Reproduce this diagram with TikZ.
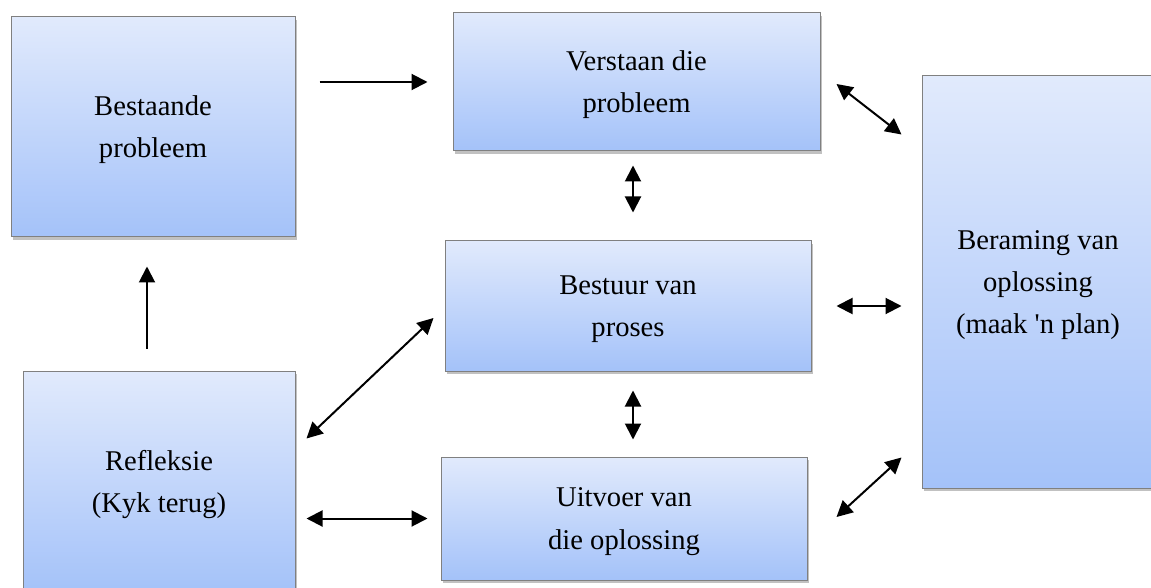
\documentclass[tikz,border=0pt]{standalone}
\usepackage{fontspec}
\setmainfont{Liberation Serif}
\usetikzlibrary{arrows.meta,shadows}
\definecolor{boxtop}{HTML}{E1EAFC}
\definecolor{boxbot}{HTML}{A4C2F9}
\definecolor{boxline}{HTML}{808080}
\newcommand\boxtext[1]{\vbox{\kern1pt\hbox{\begin{tabular}{@{}c@{}}#1\end{tabular}}}}
\tikzset{
  stepbox/.style={draw=boxline, line width=0.5pt, top color=boxtop, bottom color=boxbot,
    drop shadow={shadow xshift=1pt, shadow yshift=-1.5pt, opacity=0.4, fill=black!60},
    inner sep=0pt, font=\fontsize{14.3}{21.2}\selectfont},
  conn/.style={line width=1pt, black},
  tip/.tip={Triangle[length=8pt,width=8pt]},
}
\begin{document}
\begin{tikzpicture}[x=0.5pt,y=-0.5pt]
\clip (0,0) rectangle (1151,588);
\fill[white] (0,0) rectangle (1151,588);
\node[stepbox, minimum width=142pt, minimum height=110pt] (b1) at (153,127) {\boxtext{Bestaande\\probleem}};
\node[stepbox, minimum width=183.5pt, minimum height=69pt] (b2) at (636.5,82) {\boxtext{Verstaan die\\probleem}};
\node[stepbox, minimum width=183pt, minimum height=65pt] (b3) at (628,306) {\boxtext{Bestuur van\\proses}};
\node[stepbox, minimum width=183pt, minimum height=61.5pt] (b4) at (624,518.5) {\boxtext{Uitvoer van\\die oplossing}};
\node[stepbox, minimum width=116pt, minimum height=206pt] (b5) at (1038,282) {\boxtext{Beraming van\\oplossing\\(maak \textquotesingle n plan)}};
\node[stepbox, minimum width=136pt, minimum height=111pt] (b6) at (159,482) {\boxtext{Refleksie\\(Kyk terug)}};
\coordinate (mx) at (633,0);
% arrows
\draw[conn, -{tip}, shorten <=12pt, shorten >=12.5pt] (b1.east |- b2.west) -- (b2.west);
\draw[conn, {tip}-{tip}, shorten <=7pt, shorten >=14pt] (b2.south -| mx) -- (b3.north -| mx);
\draw[conn, {tip}-{tip}, shorten <=9.5pt, shorten >=8.5pt] (b3.south -| mx) -- (b4.north -| mx);
\draw[conn, {tip}-{tip}] ([shift={(16,2)}]b2.east) -- ([shift={(-20,59)}]b5.north west);
\draw[conn, {tip}-{tip}, shorten <=12.5pt, shorten >=10pt] (b3.east) -- (b3.east -| b5.west);
\draw[conn, {tip}-{tip}] ([shift={(29,-1.5)}]b4.east) -- ([shift={(-20,-31)}]b5.south west);
\draw[conn, {tip}-{tip}] ([shift={(11,68)}]b6.north east) -- ([shift={(-11,12)}]b3.west);
\draw[conn, {tip}-{tip}, shorten <=5.5pt, shorten >=6.5pt] (b4.west -| b6.east) -- (b4.west);
\draw[conn, -{tip}] ([shift={(-12,-22)}]b6.north) -- ([shift={(-6,29)}]b1.south);
\end{tikzpicture}
\end{document}
